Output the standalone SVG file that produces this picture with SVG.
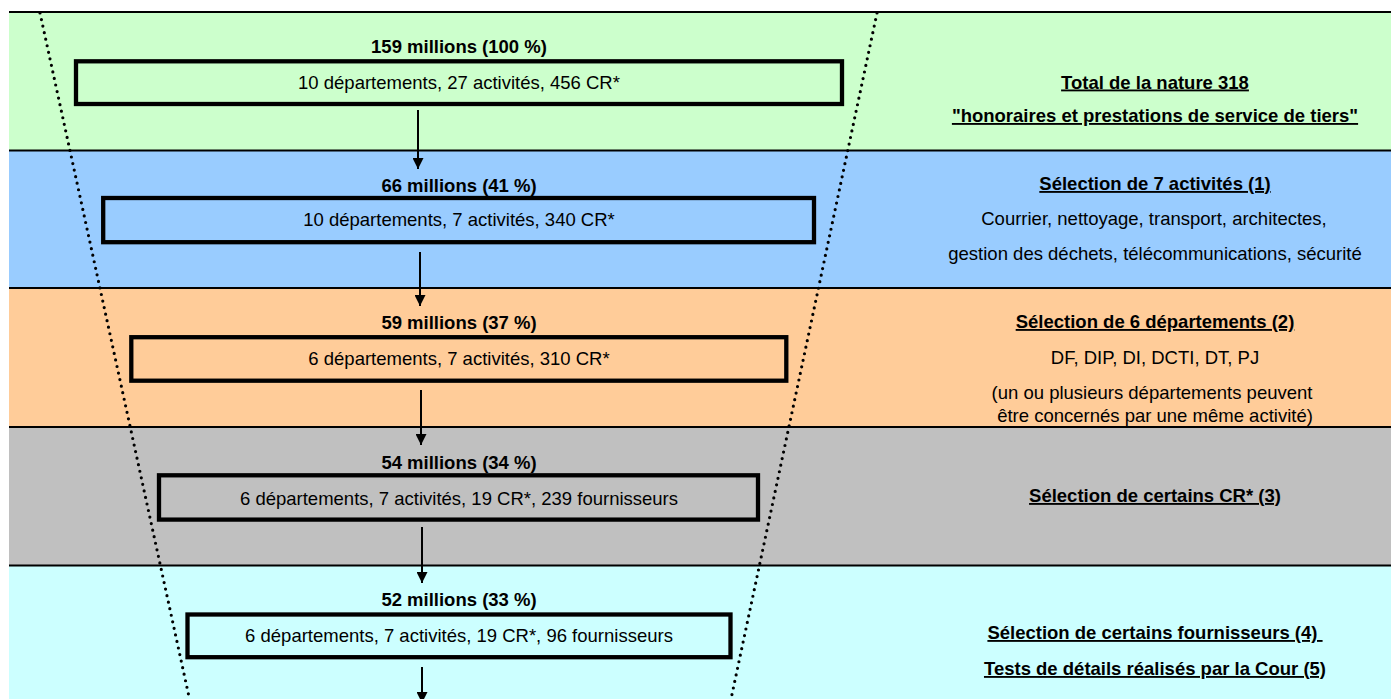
<svg xmlns="http://www.w3.org/2000/svg" width="1391" height="699" viewBox="0 0 1391 699">
<style>
text{font-family:"Liberation Sans",Arial,Helvetica,sans-serif;font-size:18.5px;fill:#000;text-anchor:middle}
.b{font-weight:bold}
.u{font-weight:bold;text-decoration:underline}
.box{fill:none;stroke:#000;stroke-width:4.3}
.sep{stroke:#000;stroke-width:2}
.dot{fill:none;stroke:#000;stroke-width:3.2;stroke-linecap:round;stroke-dasharray:0 6.7}
.arr{stroke:#000;stroke-width:2;marker-end:url(#ah)}
</style>
<defs>
<marker id="ah" viewBox="0 0 10 10" refX="10" refY="5" markerWidth="11" markerHeight="11" markerUnits="userSpaceOnUse" orient="auto">
<path d="M0,0 L10,5 L0,10 z" fill="#000"/>
</marker>
</defs>
<rect width="1391" height="699" fill="#fff"/>
<g id="bands">
<rect x="9" y="12" width="1382" height="138" fill="#CCFFCC"/>
<rect x="9" y="150" width="1382" height="138" fill="#99CCFF"/>
<rect x="9" y="288" width="1382" height="139" fill="#FFCC99"/>
<rect x="9" y="427" width="1382" height="138" fill="#C0C0C0"/>
<rect x="9" y="565" width="1382" height="134" fill="#CCFFFF"/>
<line class="sep" x1="9" y1="12" x2="1391" y2="12"/>
<line class="sep" x1="9" y1="150.5" x2="1391" y2="150.5"/>
<line class="sep" x1="9" y1="288" x2="1391" y2="288"/>
<line class="sep" x1="9" y1="427" x2="1391" y2="427"/>
<line class="sep" x1="9" y1="565.5" x2="1391" y2="565.5"/>
</g>
<g id="funnel">
<line class="dot" x1="40" y1="13" x2="189.5" y2="699"/>
<line class="dot" x1="877" y1="13" x2="731" y2="699"/>
</g>
<g id="node1">
<text class="b" x="459" y="52.5">159 millions (100 %)</text>
<rect class="box" x="76" y="61.3" width="766" height="42.7"/>
<text x="459" y="88.5">10 départements, 27 activités, 456 CR*</text>
</g>
<g id="node2">
<text class="b" x="459" y="191.7">66 millions (41 %)</text>
<rect class="box" x="103.2" y="198" width="710.8" height="44.2"/>
<text x="459" y="225.5">10 départements, 7 activités, 340 CR*</text>
</g>
<g id="node3">
<text class="b" x="459" y="329.3">59 millions (37 %)</text>
<rect class="box" x="131.3" y="337.2" width="655" height="43.5"/>
<text x="459" y="365">6 départements, 7 activités, 310 CR*</text>
</g>
<g id="node4">
<text class="b" x="459" y="469">54 millions (34 %)</text>
<rect class="box" x="159" y="475.3" width="599" height="44.3"/>
<text x="459" y="505">6 départements, 7 activités, 19 CR*, 239 fournisseurs</text>
</g>
<g id="node5">
<text class="b" x="459" y="605.5">52 millions (33 %)</text>
<rect class="box" x="187.5" y="614.5" width="543" height="42.7"/>
<text x="459" y="641.7">6 départements, 7 activités, 19 CR*, 96 fournisseurs</text>
</g>
<g id="connectors">
<line class="arr" x1="418" y1="110" x2="418" y2="169"/>
<line class="arr" x1="420" y1="252" x2="420" y2="306"/>
<line class="arr" x1="421" y1="390" x2="421" y2="445"/>
<line class="arr" x1="422" y1="527" x2="422" y2="583"/>
<line class="arr" x1="422" y1="667" x2="422" y2="703"/>
</g>
<g id="desc1">
<text class="u" x="1155" y="88.5">Total de la nature 318</text>
<text class="u" x="1155" y="122">"honoraires et prestations de service de tiers"</text>
</g>
<g id="desc2">
<text class="u" x="1155" y="190">Sélection de 7 activités (1)</text>
<text x="1154" y="225">Courrier, nettoyage, transport, architectes,</text>
<text x="1155" y="260">gestion des déchets, télécommunications, sécurité</text>
</g>
<g id="desc3">
<text class="u" x="1155" y="328">Sélection de 6 départements (2)</text>
<text x="1155" y="364">DF, DIP, DI, DCTI, DT, PJ</text>
<text x="1152" y="399">(un ou plusieurs départements peuvent</text>
<text x="1155" y="422">être concernés par une même activité)</text>
</g>
<g id="desc4">
<text class="u" x="1155" y="502">Sélection de certains CR* (3)</text>
</g>
<g id="desc5">
<text class="u" x="1155" y="639" style="white-space:pre">Sélection de certains fournisseurs (4) </text>
<text class="u" x="1155" y="675">Tests de détails réalisés par la Cour (5)</text>
</g>
</svg>
